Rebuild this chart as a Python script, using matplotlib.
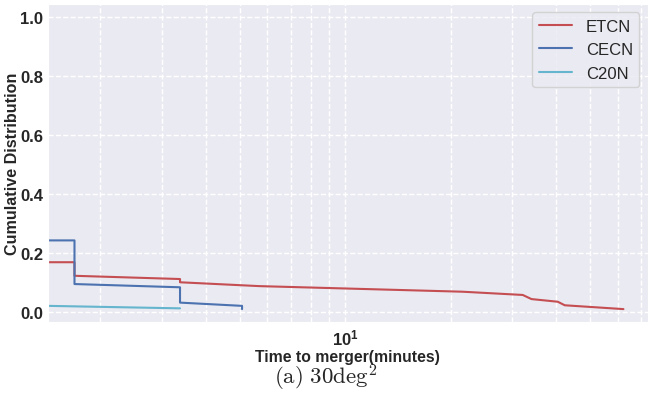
import matplotlib
matplotlib.use("Agg")
import matplotlib.pyplot as plt
import matplotlib.ticker as mticker
import seaborn as sns

# ---- data ----
etcn_x = [1.42, 1.69, 1.69, 3.38, 3.38, 5.68, 21.6, 32.1, 34.0, 40.4, 42.3, 62.2]
etcn_y = [0.169, 0.169, 0.123, 0.112, 0.101, 0.088, 0.069, 0.058, 0.044, 0.035, 0.023, 0.010]

cecn_x = [1.42, 1.69, 1.69, 3.38, 3.38, 5.08, 5.08]
cecn_y = [0.243, 0.243, 0.095, 0.084, 0.032, 0.021, 0.010]

c20n_x = [1.42, 3.38]
c20n_y = [0.021, 0.0126]

series_names = ["ETCN", "CECN", "C20N"]
series_colors = ["#c44e52", "#4c72b0", "#64b5cd"]

sns.set_style("darkgrid", {"grid.linestyle": "--"})
plt.rcParams["font.family"] = ["Liberation Sans", "DejaVu Sans"]
plt.rcParams["mathtext.fontset"] = "cm"

fig = plt.figure(figsize=(6.52, 4.10), dpi=100)
ax = fig.add_axes([0.0736, 0.212, 0.920, 0.776])

for xs, ys, name, col in zip([etcn_x, cecn_x, c20n_x], [etcn_y, cecn_y, c20n_y],
                             series_names, series_colors):
    ax.plot(xs, ys, color=col, lw=1.5, label=name)

ax.set_xscale("log")
ax.set_xlim(1.42, 73)
ax.set_ylim(-0.034, 1.045)
ax.set_yticks([0.0, 0.2, 0.4, 0.6, 0.8, 1.0])
ax.xaxis.set_minor_locator(mticker.LogLocator(base=10, subs=range(2, 10)))
ax.xaxis.set_minor_formatter(mticker.NullFormatter())
ax.grid(True, which="both", axis="x", color="white", linestyle="--", lw=1)
ax.grid(True, which="major", axis="y", color="white", linestyle="--", lw=1)
ax.tick_params(axis="both", which="both", length=0, labelsize=12)
ax.tick_params(axis="x", pad=4)
for lab in ax.get_xticklabels() + ax.get_yticklabels():
    lab.set_fontweight("bold")

ax.set_xlabel("Time to merger(minutes)", fontsize=11.3, fontweight="bold", labelpad=1)
ax.set_ylabel("Cumulative Distribution", fontsize=11.6, fontweight="bold", labelpad=0)

ax.legend(loc="upper right", fontsize=12, frameon=True, handlelength=2.0,
          borderaxespad=0.5)

fig.text(0.5, 0.078, r"$\mathrm{(a)\ 30deg}^{2}$", ha="center", va="center", fontsize=16.5)

fig.savefig("out.png", dpi=100)
